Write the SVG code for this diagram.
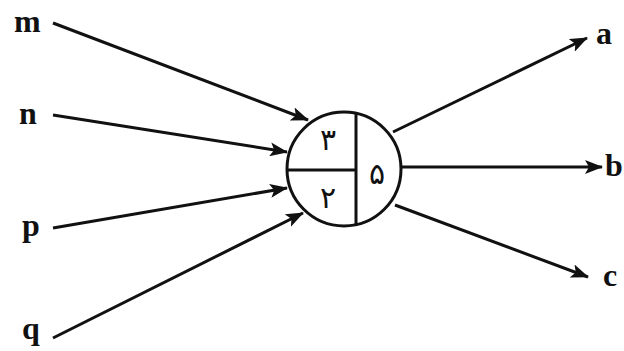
<svg xmlns="http://www.w3.org/2000/svg" width="624" height="351" viewBox="0 0 624 351">
<style>
.lbl{font-family:"Liberation Serif","Times New Roman",serif;font-weight:bold;font-size:32px;fill:#111}
.dig{font-family:"DejaVu Sans",sans-serif;font-size:30px;fill:#111;text-anchor:middle}
.ln{stroke:#111;stroke-width:3;fill:none}
</style>
<defs>
<marker id="ah" viewBox="0 0 18 14" refX="17" refY="7" markerWidth="18" markerHeight="14" markerUnits="userSpaceOnUse" orient="auto">
<path d="M0,0 L18,7 L0,14 L4,7 Z" fill="#111"/>
</marker>
</defs>
<rect width="624" height="351" fill="#fff"/>
<g id="connectors">
<line class="ln" x1="53" y1="23" x2="308" y2="120" marker-end="url(#ah)"/>
<line class="ln" x1="53" y1="115" x2="287" y2="152" marker-end="url(#ah)"/>
<line class="ln" x1="53" y1="228" x2="287" y2="188" marker-end="url(#ah)"/>
<line class="ln" x1="53" y1="338" x2="303" y2="213" marker-end="url(#ah)"/>
<line class="ln" x1="393" y1="132" x2="587" y2="38" marker-end="url(#ah)"/>
<line class="ln" x1="402" y1="167" x2="602" y2="167" marker-end="url(#ah)"/>
<line class="ln" x1="395" y1="205" x2="588" y2="277" marker-end="url(#ah)"/>
</g>
<g id="node">
<circle class="ln" cx="344" cy="169" r="57" fill="#fff"/>
<line class="ln" x1="356" y1="112" x2="356" y2="226"/>
<line class="ln" x1="287" y1="170" x2="356" y2="170"/>
<text class="dig" x="328" y="150">۳</text>
<text class="dig" x="328" y="208">۲</text>
<text class="dig" x="377" y="184">۵</text>
</g>
<g id="m"><text class="lbl" x="14" y="32">m</text></g>
<g id="n"><text class="lbl" x="19" y="124">n</text></g>
<g id="p"><text class="lbl" x="22" y="236">p</text></g>
<g id="q"><text class="lbl" x="22" y="339">q</text></g>
<g id="a"><text class="lbl" x="596" y="44">a</text></g>
<g id="b"><text class="lbl" x="605" y="176">b</text></g>
<g id="c"><text class="lbl" x="603" y="286">c</text></g>
</svg>
